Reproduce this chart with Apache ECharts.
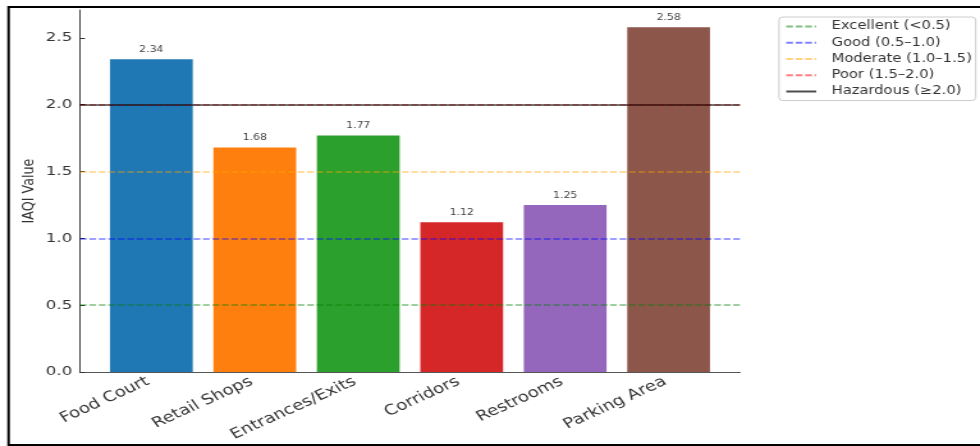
<!DOCTYPE html>
<html><head><meta charset="utf-8">
<script src="https://cdn.jsdelivr.net/npm/echarts@6/dist/echarts.min.js"></script>
<style>
html,body{margin:0;padding:0;background:#fff;overflow:hidden;}
#wrap{width:980px;height:446px;overflow:hidden;position:relative;background:#fff;}
#chart{width:766px;height:446px;transform:scaleX(1.27937);transform-origin:0 0;}
</style></head><body><div id="wrap"><div id="chart"></div></div>
<script>
const categories = ['Food Court','Retail Shops','Entrances/Exits','Corridors','Restrooms','Parking Area'];
const iaqiValues = [2.34, 1.68, 1.77, 1.12, 1.25, 2.58];
const barColors = ['#1f77b4','#ff7f0e','#2ca02c','#d62728','#9467bd','#8c564b'];
const thresholdNames = ['Excellent (<0.5)','Good (0.5–1.0)','Moderate (1.0–1.5)','Poor (1.5–2.0)','Hazardous (≥2.0)'];
const thresholdValues = [0.5, 1.0, 1.5, 2.0, 2.0];
const thresholdColors = ['rgba(0,128,0,0.5)','rgba(0,0,255,0.5)','rgba(255,165,0,0.5)','rgba(255,0,0,0.5)','rgba(0,0,0,0.7)'];
const thresholdDashed = [true, true, true, true, false];
const yTicks = [0, 0.5, 1.0, 1.5, 2.0, 2.5];
const xTicks = categories.map((c, i) => i);

const W = 766;
const gridLeft = 62.5, gridRight = 187.6, gridTop = 10, gridBottom = 74;
const xMin = -0.69, xMax = 5.69, yMax = 2.709;
const barW = 0.8 * (W - gridLeft - gridRight) / (xMax - xMin);
const FONT = 'DejaVu Sans';

const chart = echarts.init(document.getElementById('chart'), null, {renderer: 'canvas'});

const series = [{
  type: 'bar',
  barWidth: barW,
  z: 2,
  data: iaqiValues.map((v, i) => ({value: [i, v], itemStyle: {color: barColors[i]}})),
  label: {
    show: true, position: 'top', distance: 5,
    fontFamily: FONT, fontSize: 8.5, color: '#444',
    formatter: p => p.value[1].toFixed(2)
  }
}];
thresholdNames.forEach((name, i) => {
  const ls = {color: thresholdColors[i], width: 1.5, type: thresholdDashed[i] ? [5.2, 2.2] : 'solid'};
  series.push({
    name: name, type: 'line', data: [], symbol: 'none', showSymbol: false, z: 5 + i,
    itemStyle: {color: 'rgba(0,0,0,0)'},
    lineStyle: ls,
    markLine: {
      silent: true, symbol: 'none', label: {show: false},
      lineStyle: ls, animation: false,
      data: [[{coord: [xMin, thresholdValues[i]]}, {coord: [xMax, thresholdValues[i]]}]]
    }
  });
});

chart.setOption({
  animation: false,
  backgroundColor: '#fff',
  grid: {left: gridLeft, right: gridRight, top: gridTop, bottom: gridBottom, containLabel: false, outerBoundsMode: 'none'},
  xAxis: {
    type: 'value', min: xMin, max: xMax,
    splitLine: {show: false},
    axisPointer: {show: false},
    axisLine: {show: true, onZero: false, lineStyle: {color: '#555', width: 1.2}},
    axisTick: {show: true, inside: true, length: 3.5, customValues: xTicks, lineStyle: {color: '#333', width: 1}},
    axisLabel: {
      customValues: xTicks, rotate: 30, margin: 7, padding: [0, 3, 0, 0],
      fontFamily: FONT, fontSize: 14.3, color: '#333',
      formatter: v => categories[Math.round(v)]
    }
  },
  yAxis: {
    type: 'value', min: 0, max: yMax,
    name: 'IAQI Value', nameLocation: 'middle', nameGap: 33, nameRotate: 90, nameMoveOverlap: false,
    nameTextStyle: {fontFamily: FONT, fontSize: 12.7, color: '#333'},
    splitLine: {show: false},
    axisLine: {show: true, onZero: false, lineStyle: {color: '#444', width: 1}},
    axisTick: {show: true, inside: true, length: 3.9, customValues: yTicks, lineStyle: {color: '#333', width: 1}},
    axisLabel: {
      customValues: yTicks, margin: 6,
      fontFamily: FONT, fontSize: 13, color: '#333',
      formatter: v => v.toFixed(1)
    }
  },
  legend: {
    orient: 'vertical', left: 608.9, top: 17,
    data: thresholdNames,
    itemWidth: 23.4, itemHeight: 12, itemGap: 4.25,
    padding: [3.5, 3, 3, 4.7],
    backgroundColor: '#fff', borderColor: '#cccccc', borderWidth: 1, borderRadius: 3,
    itemStyle: {opacity: 0},
    textStyle: {fontFamily: FONT, fontSize: 11.5, color: '#333', padding: [0, 0, 0, 7]},
    selectedMode: false
  },
  graphic: [{
    type: 'rect', silent: true, z: 100,
    shape: {x: 6.7, y: 7, width: 800, height: 438},
    style: {fill: null, stroke: '#000', lineWidth: 2}
  }],
  series: series
});
</script></body></html>
